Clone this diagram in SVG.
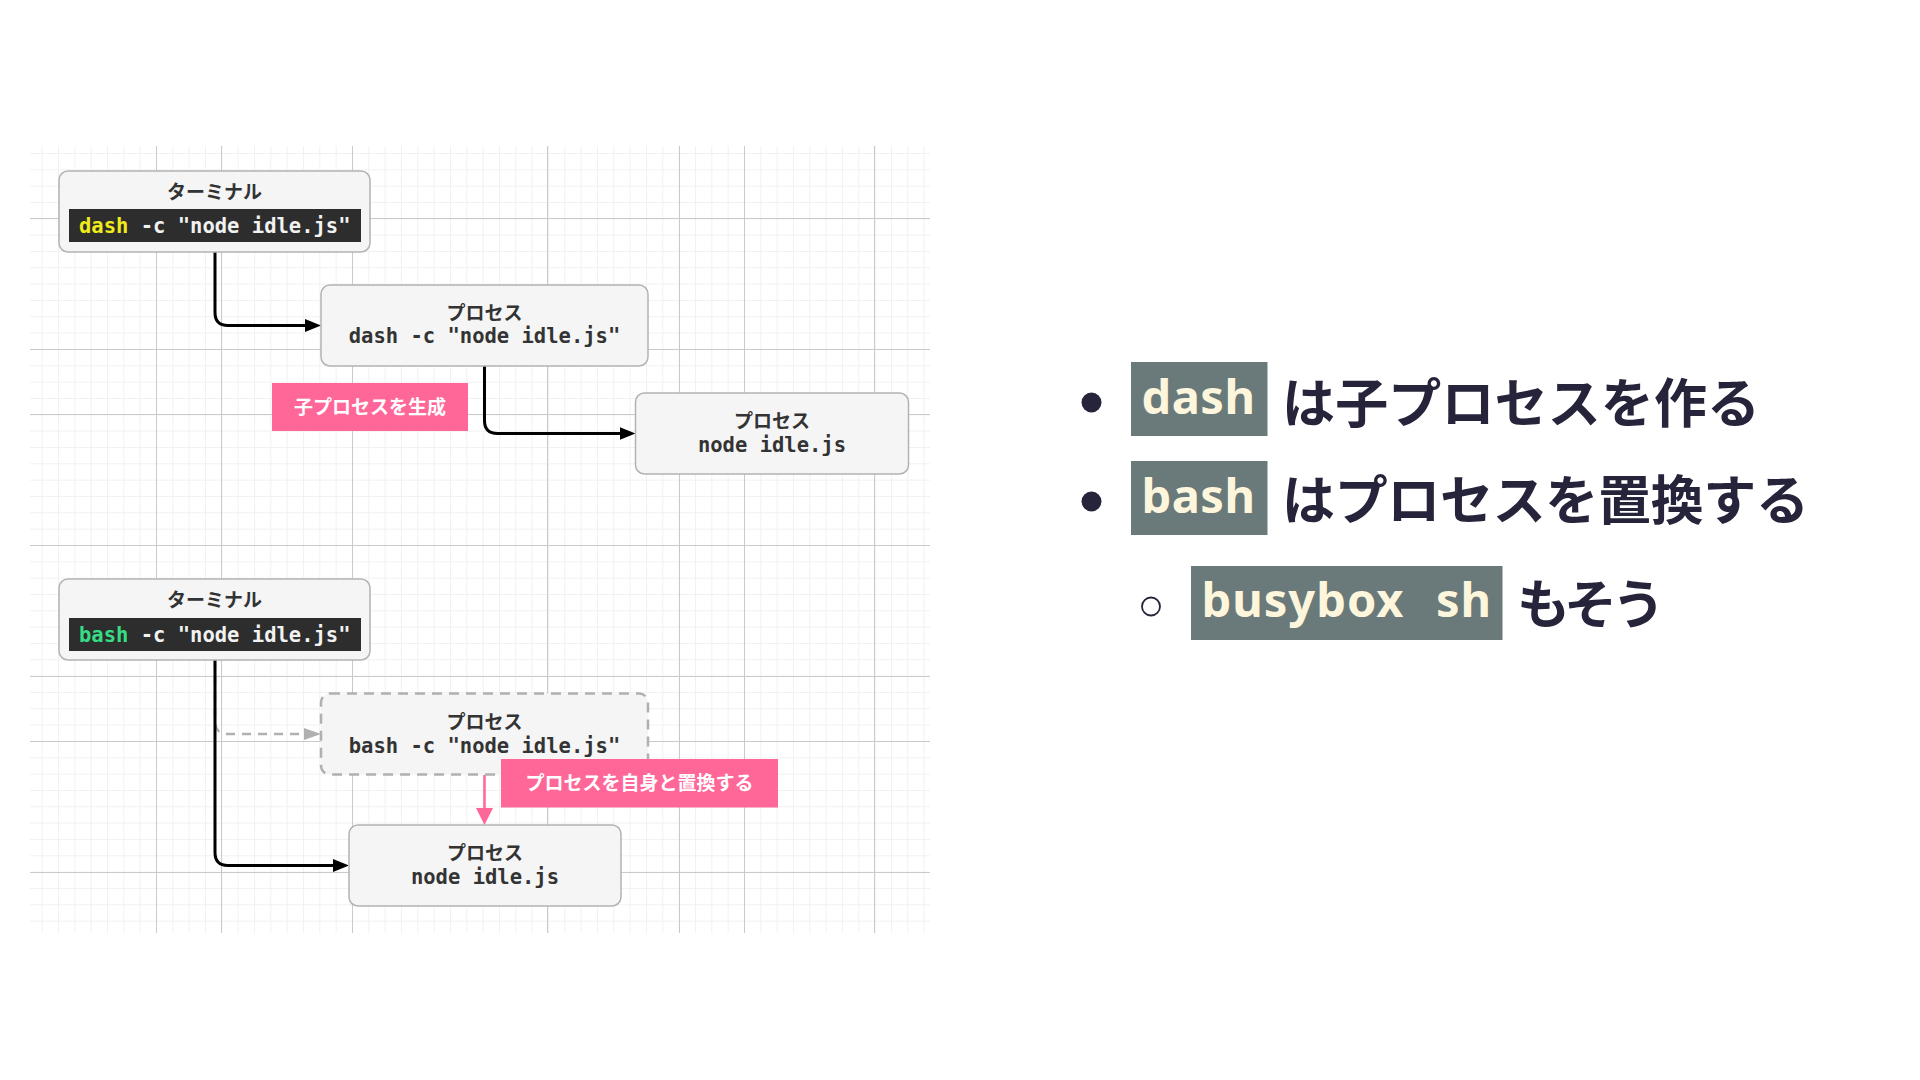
<svg xmlns="http://www.w3.org/2000/svg" width="1920" height="1080" viewBox="0 0 1920 1080">
<style>
.box{fill:#f5f5f5;stroke:#b3b3b3;stroke-width:1.5}
.dbox{fill:#f5f5f5;stroke:#b0b0b0;stroke-width:2.5;stroke-dasharray:10 7}
.ttl{font-family:"Noto Sans CJK JP","Noto Sans",sans-serif;font-weight:700;font-size:19px;fill:#333;text-anchor:middle}
.mono{font-family:"DejaVu Sans Mono","Liberation Mono",monospace;font-weight:700;font-size:20.5px;fill:#333;text-anchor:middle}
.bar{fill:#2d2d2d}
.tt{font-family:"DejaVu Sans Mono","Liberation Mono",monospace;font-weight:700;font-size:20.5px;fill:#f2f2f2}
.lbl{fill:#ff6799}
.lt{font-family:"Noto Sans CJK JP","Noto Sans",sans-serif;font-weight:700;font-size:19px;fill:#fff;text-anchor:middle}
.edge{fill:none;stroke:#000;stroke-width:3}
.ghost{fill:none;stroke:#b0b0b0;stroke-width:2.5;stroke-dasharray:9 7}
.pink{fill:none;stroke:#ff6799;stroke-width:2.5}
.code{fill:#6a7a7a}
.ct{font-family:"Noto Sans","DejaVu Sans",sans-serif;font-weight:700;font-size:47px;fill:#fdf6dc}
.jp{font-family:"Noto Sans CJK JP",sans-serif;font-weight:700;font-size:53px;fill:#26243a}
.grid-strong{stroke:#cacaca;stroke-width:1}
</style>
<defs>
<pattern id="minor" patternUnits="userSpaceOnUse" x="9" y="6" width="16.333" height="16.333">
<path d="M0 0.5H16.333M0.5 0V16.333" stroke="#f1f1f1" stroke-width="1" fill="none"/>
</pattern>
<marker id="ah" markerUnits="userSpaceOnUse" markerWidth="17" markerHeight="13" refX="6" refY="6.5" orient="auto">
<path d="M0 0L16 6.5L0 13z" fill="#000"/>
</marker>
<marker id="ahg" markerUnits="userSpaceOnUse" markerWidth="18" markerHeight="12" refX="7" refY="6" orient="auto">
<path d="M0 0L17 6L0 12z" fill="#b0b0b0"/>
</marker>
<marker id="ahp" markerUnits="userSpaceOnUse" markerWidth="18" markerHeight="17" refX="7" refY="8.5" orient="auto">
<path d="M0 0L17 8.5L0 17z" fill="#ff6799"/>
</marker>
</defs>
<rect width="1920" height="1080" fill="#fff"/>

<g id="grid">
<rect x="30" y="146" width="900" height="787" fill="url(#minor)"/>
<path class="grid-strong" d="M156.5 146V933M221.5 146V933M352.5 146V933M547.5 146V933M679.5 146V933M744.5 146V933M874.5 146V933M30 218.5H930M30 349.5H930M30 414.5H930M30 545.5H930M30 676.5H930M30 741.5H930M30 872.5H930"/>
</g>

<g id="connectors">
<path class="ghost" d="M215 660V721Q215 734 228 734H311" marker-end="url(#ahg)"/>
<path class="edge" d="M215 252V312.5Q215 325.5 228 325.5H311" marker-end="url(#ah)"/>
<path class="edge" d="M484.5 366V420.5Q484.5 433.5 497.5 433.5H625.5" marker-end="url(#ah)"/>
<path class="edge" d="M215 660V852.5Q215 865.5 228 865.5H339" marker-end="url(#ah)"/>
<path class="pink" d="M484.5 775V815" marker-end="url(#ahp)"/>
</g>

<g id="terminal1">
<rect class="box" x="59" y="171" width="311" height="81" rx="9"/>
<text class="ttl" x="214.5" y="199">ターミナル</text>
<rect class="bar" x="69" y="209" width="292" height="33"/>
<text class="tt" x="79" y="233"><tspan fill="#f0ec1c">dash</tspan> -c "node idle.js"</text>
</g>

<g id="process1">
<rect class="box" x="321" y="285" width="327" height="81" rx="9"/>
<text class="ttl" x="484.5" y="320">プロセス</text>
<text class="mono" x="484.5" y="343">dash -c "node idle.js"</text>
</g>

<g id="label1">
<rect class="lbl" x="272" y="383" width="196" height="48"/>
<text class="lt" x="370" y="414">子プロセスを生成</text>
</g>

<g id="process2">
<rect class="box" x="635.5" y="393" width="273" height="81" rx="9"/>
<text class="ttl" x="772" y="428">プロセス</text>
<text class="mono" x="772" y="451.5">node idle.js</text>
</g>

<g id="terminal2">
<rect class="box" x="59" y="579" width="311" height="81" rx="9"/>
<text class="ttl" x="214.5" y="607">ターミナル</text>
<rect class="bar" x="69" y="618" width="292" height="33"/>
<text class="tt" x="79" y="641.5"><tspan fill="#35de85">bash</tspan> -c "node idle.js"</text>
</g>

<g id="process-replaced">
<rect class="dbox" x="321" y="693.5" width="327" height="81" rx="9"/>
<text class="ttl" x="484.5" y="729">プロセス</text>
<text class="mono" x="484.5" y="752.5">bash -c "node idle.js"</text>
</g>

<g id="label2">
<rect class="lbl" x="501" y="759" width="277" height="48.5"/>
<text class="lt" x="639.5" y="790">プロセスを自身と置換する</text>
</g>

<g id="process3">
<rect class="box" x="349" y="825" width="272" height="81" rx="9"/>
<text class="ttl" x="485" y="860">プロセス</text>
<text class="mono" x="485" y="883.5">node idle.js</text>
</g>

<g id="bullets">
<circle cx="1091.5" cy="402.5" r="10" fill="#26243a"/>
<rect class="code" x="1131" y="362" width="136.5" height="74"/>
<text class="ct" x="1141.5" y="413.5" textLength="113.5" lengthAdjust="spacing">dash</text>
<text class="jp" x="1282" y="423" textLength="478" lengthAdjust="spacing">は子プロセスを作る</text>

<circle cx="1091.5" cy="501.5" r="10" fill="#26243a"/>
<rect class="code" x="1131" y="461" width="136.5" height="74"/>
<text class="ct" x="1141.5" y="512.5" textLength="113.5" lengthAdjust="spacing">bash</text>
<text class="jp" x="1282" y="520" textLength="527" lengthAdjust="spacing">はプロセスを置換する</text>

<circle cx="1151" cy="606.5" r="9" fill="none" stroke="#26243a" stroke-width="1.8"/>
<rect class="code" x="1191" y="566" width="311.5" height="74"/>
<text class="ct" x="1201.5" y="616.5"><tspan textLength="202" lengthAdjust="spacing">busybox</tspan> <tspan x="1436" textLength="55" lengthAdjust="spacing">sh</tspan></text>
<text class="jp" x="1517" y="624" textLength="148" lengthAdjust="spacing">もそう</text>
</g>
</svg>
